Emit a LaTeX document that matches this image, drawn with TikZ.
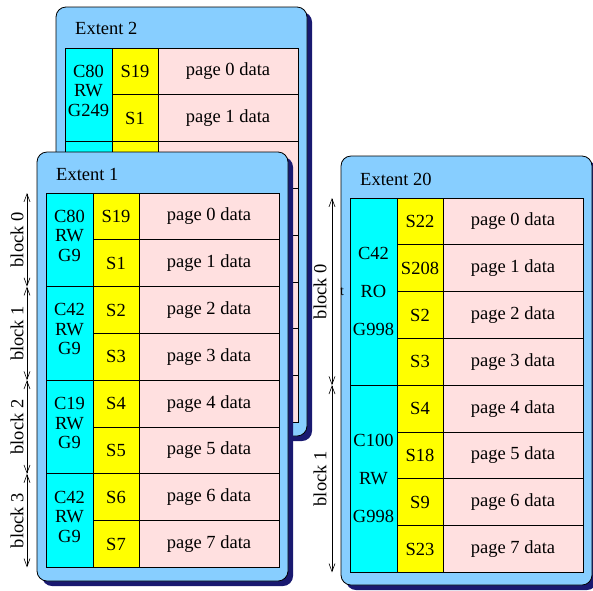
\documentclass[tikz,border=0pt]{standalone}
\usepackage{fontspec}
\setmainfont{Liberation Serif}
\usetikzlibrary{arrows.meta,positioning}
\definecolor{extentblue}{RGB}{135,206,255}
\definecolor{extentnavy}{RGB}{25,25,112}
\definecolor{datapink}{RGB}{255,224,224}
\definecolor{mapcyan}{RGB}{0,255,255}
\definecolor{sumyellow}{RGB}{255,255,0}

\tikzset{
  cellbase/.style={draw=black, line width=0.8pt, anchor=north west, inner sep=0pt, outer sep=0pt, minimum height=46.8pt},
  ccell/.style={cellbase, fill=mapcyan, minimum width=47pt, minimum height=93.6pt},
  scell/.style={cellbase, fill=sumyellow, minimum width=46pt},
  pcell/.style={cellbase, fill=datapink, minimum width=140pt},
  ctext/.style={align=center, inner sep=0pt},
  titletext/.style={anchor=west, inner sep=0pt},
  extentbox/.style={draw=black, line width=0.8pt, fill=extentblue, rounded corners=10pt},
  extentshadow/.style={fill=extentnavy, rounded corners=10pt},
  blockarrow/.style={{Straight Barb[length=8pt,width=6pt]}-{Straight Barb[length=8pt,width=6pt]}, line width=0.6pt},
  blocklabel/.style={rotate=90, inner sep=0pt}
}

\begin{document}
\begin{tikzpicture}[x=1pt, y=-1pt, font=\fontsize{18.5}{19.5}\selectfont]
  \useasboundingbox (0,0) rectangle (593,590);

  % Extent 2 (behind extent 1)
  \begin{scope}[shift={(65,48)}]
    \fill[extentshadow] (-4,-36) rectangle (247,393);
    \draw[extentbox] (-9,-41) rectangle (242,388);
    \node[titletext] (e2title) at (10,-20) {Extent 2};
    \foreach \b in {0,...,3}
      \node[ccell] (e2c\b) at (0,\b*93.6) {};
    \node[ctext] (e2t0) at ([yshift=4pt]e2c0.center) {C80\\RW\\G249};
    \foreach \s [count=\j from 0] in {19,1} {
      \node[scell] (e2s\j) at (47,\j*46.8) {S\s};
      \node[pcell] (e2p\j) at (93,\j*46.8) {page \j\ data};
    }
    \foreach \j in {2,...,7} {
      \node[scell] (e2s\j) at (47,\j*46.8) {};
      \node[pcell] (e2p\j) at (93,\j*46.8) {};
    }
  \end{scope}

  % Extent 1
  \begin{scope}[shift={(46,193)}]
    \fill[extentshadow] (-4,-36) rectangle (247,393);
    \draw[extentbox] (-9,-41) rectangle (242,388);
    \node[titletext] (e1title) at (10,-19) {Extent 1};
    \foreach \c [count=\b from 0] in {80,42,19,42} {
      \node[ccell] (e1c\b) at (0,\b*93.6) {};
      \node[ctext] (e1t\b) at ([yshift=4pt]e1c\b.center) {C\c\\RW\\G9};
      \draw[blockarrow] ([xshift=-19pt]e1c\b.north west) -- ([xshift=-19pt]e1c\b.south west);
      \node[blocklabel] (e1b\b) at ([xshift=-29pt]e1c\b.west) {block \b};
    }
    \foreach \s [count=\j from 0] in {19,1,2,3,4,5,6,7} {
      \node[scell] (e1s\j) at (47,\j*46.8) {S\s};
      \node[pcell] (e1p\j) at (93,\j*46.8) {page \j\ data};
    }
  \end{scope}

  % Extent 20
  \begin{scope}[shift={(350,198)}]
    \fill[extentshadow] (-4,-37) rectangle (247,392);
    \draw[extentbox] (-9,-42) rectangle (242,387);
    \node[titletext] (e20title) at (10,-19) {Extent 20};
    \node[ccell, minimum height=187.2pt] (e20c0) at (0,0) {};
    \node[ccell, minimum height=187.2pt] (e20c1) at (0,187.2) {};
    \node[ctext, font=\fontsize{18.5}{38}\selectfont] (e20t0) at (e20c0.center) {C42\\RO\\G998};
    \node[ctext, font=\fontsize{18.5}{38}\selectfont] (e20t1) at (e20c1.center) {C100\\RW\\G998};
    \foreach \b in {0,1} {
      \draw[blockarrow] ([xshift=-18pt]e20c\b.north west) -- ([xshift=-18pt]e20c\b.south west);
      \node[blocklabel] (e20b\b) at ([xshift=-30pt]e20c\b.west) {block \b};
    }
    \node[inner sep=0pt, font=\fontsize{14}{14}\selectfont] (e20tick) at ([xshift=-8pt]e20c0.west) {t};
    \foreach \s [count=\j from 0] in {22,208,2,3,4,18,9,23} {
      \node[scell] (e20s\j) at (47,\j*46.8) {S\s};
      \node[pcell] (e20p\j) at (93,\j*46.8) {page \j\ data};
    }
  \end{scope}
\end{tikzpicture}
\end{document}
